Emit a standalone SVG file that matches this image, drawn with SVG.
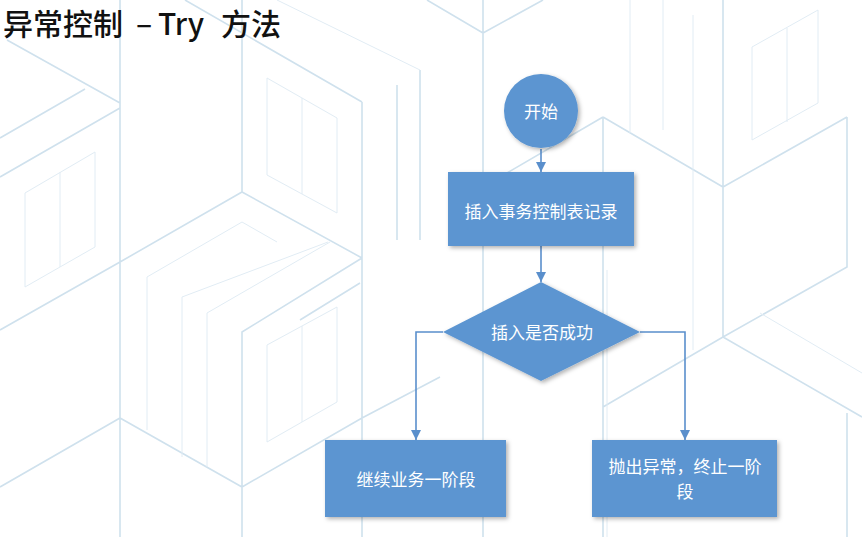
<svg xmlns="http://www.w3.org/2000/svg" width="862" height="537" viewBox="0 0 862 537">
<style>
.bg{fill:none;stroke:#cfe1ed;stroke-width:1.6}
.bg2{fill:none;stroke:#e1ecf4;stroke-width:1}
.shape{fill:#5b95d1;filter:url(#sh)}
.lbl{font-family:"Noto Sans CJK SC","Noto Sans",sans-serif;font-size:17px;fill:#ffffff;text-anchor:middle}
.conn{fill:none;stroke:#5a8fcc;stroke-width:1.6;marker-end:url(#arr)}
.title{font-family:"Noto Sans CJK SC","Noto Sans",sans-serif;font-size:30px;font-weight:500;fill:#111111}
</style>
<defs>
<filter id="sh" x="-20%" y="-20%" width="140%" height="140%">
<feDropShadow dx="2" dy="2" stdDeviation="2" flood-color="#000" flood-opacity="0.3"/>
</filter>
<marker id="arr" markerUnits="userSpaceOnUse" markerWidth="10" markerHeight="10" refX="10" refY="5" orient="auto" viewBox="0 0 10 10">
<path d="M0,0 L10,5 L0,10 Z" fill="#5a8fcc"/>
</marker>
</defs>
<rect width="862" height="537" fill="#ffffff"/>
<g id="background">
<path class="bg" d="M120 0V537 M242 0V192 M0 330L120 262L242 192L362 258 M185 0L362 102 M362 102V537 M362 258L242 332V537 M0 487L120 418L242 487L362 418L440 377 M7 40L120 103 M0 177L120 108 M0 138L85 89 M603 117L723 187L847 117 M723 0V337 M603 117V537 M847 117V267L723 337L603 407 M723 337L862 417 M847 413V537 M483 0V537 M483 33L543 0 M427 0L483 33 M483 187L603 117 M360 283L300 320 M420 70V240 M397 85V240"/>
<path class="bg2" d="M25 193L95 152V247L25 287Z M60 172V267 M267 78L337 118V213L267 175Z M302 98V194 M267 345L337 307V402L267 442Z M302 326V422 M147 277L242 222L277 242 M147 277V430 M182 297L328 242 M182 297V457 M207 313L330 242 M207 313V467 M752 47L818 10V103L752 140Z M787 28V122 M693 15V350 M663 0V130 M630 0V133 M607 270V537 M760 313L862 373 M277 0L420 70"/>
</g>
<text class="title" y="35"><tspan x="3">异常控制</tspan><tspan x="136">–</tspan><tspan x="158">Try</tspan><tspan x="221">方法</tspan></text>
<g id="connectors">
<path class="conn" d="M541 149V172"/>
<path class="conn" d="M541 246V282"/>
<path class="conn" d="M443 332H416V440"/>
<path class="conn" d="M640 332H685V440"/>
</g>
<g id="start">
<circle class="shape" cx="541" cy="111" r="37"/>
<text class="lbl" x="541" y="118">开始</text>
</g>
<g id="insert">
<rect class="shape" x="448" y="172" width="186" height="74"/>
<text class="lbl" x="541" y="218">插入事务控制表记录</text>
</g>
<g id="decision">
<polygon class="shape" points="541,282 640,332 541,381 443,332"/>
<text class="lbl" x="542" y="339">插入是否成功</text>
</g>
<g id="continue">
<rect class="shape" x="325" y="440" width="181" height="77"/>
<text class="lbl" x="416" y="486">继续业务一阶段</text>
</g>
<g id="throw">
<rect class="shape" x="592" y="440" width="185" height="77"/>
<text class="lbl" x="685" y="473">抛出异常，终止一阶</text>
<text class="lbl" x="685" y="498">段</text>
</g>
</svg>
